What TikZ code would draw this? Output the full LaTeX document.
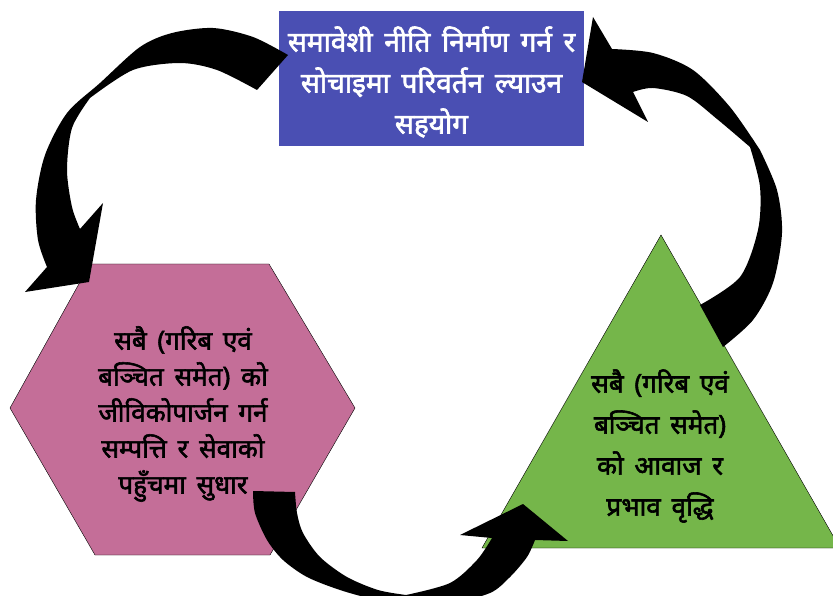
\documentclass[tikz,border=0pt]{standalone}
\usepackage{fontspec}
\newfontfamily\deva[Script=Devanagari, FakeBold=2.2, WordSpace=1.6]{Noto Sans}
\definecolor{sahblau}{RGB}{74,79,179}
\definecolor{pahrosa}{RGB}{196,110,152}
\definecolor{awgruen}{RGB}{117,182,74}

\begin{document}
\begin{tikzpicture}[x=1pt, y=-1pt,
    txt/.style={align=center, font=\deva\fontsize{26}{36}\selectfont},
    pfeil/.style={fill=black}]
        \useasboundingbox (0,0) rectangle (833,596);

        \node[fill=sahblau, minimum width=305pt, minimum height=135pt, inner sep=0pt] (Sahayog) at (431.5,78.5) {};
        \node[txt, text=white, font=\deva\fontsize{28}{41}\selectfont] (SahayogTxt) at (431.5,82)
              {समावेशी नीति निर्माण गर्न र\\सोचाइमा परिवर्तन ल्याउन\\सहयोग};

        \draw[fill=pahrosa] (90,264) -- (269,264) -- (355,408) -- (270,555) -- (95,555) -- (10,408) -- cycle;
        \node[txt] (Pahunch) at (183,414)
              {सबै (गरिब एवं\\बञ्चित समेत) को\\जीविकोपार्जन गर्न\\सम्पत्ति र सेवाको\\पहुँचमा सुधार};

        \draw[fill=awgruen] (661,235) -- (840,548) -- (482,548) -- cycle;
        \node[txt, font=\deva\fontsize{26}{41}\selectfont] (Awaj) at (660,446)
              {सबै (गरिब एवं\\बञ्चित समेत)\\को आवाज र\\प्रभाव वृद्धि};

        \begin{scope}[pfeil]
            \fill (288,55)
                -- plot[smooth] coordinates {(288,55) (253,37) (213,28) (172,33) (140,47) (100,83) (67,113) (45,155) (36,200) (38,240) (47,267)}
                -- (25,292) -- (89,282) -- (103,203) -- (80,229)
                -- plot[smooth] coordinates {(80,229) (72,207) (67,170) (72,128) (90,98)}
                -- plot[smooth] coordinates {(90,98) (133,70) (180,63) (217,70) (257,90)}
                -- cycle;
            \fill (253,491) -- (295,492)
                -- plot[smooth] coordinates {(295,492) (297,513) (303,533) (320,557) (347,577) (378,590) (406,595)}
                -- plot[smooth] coordinates {(406,595) (450,583) (477,560) (492,538)}
                -- (460,535) -- (523,504) -- (568,541) -- (535,540)
                -- plot[smooth] coordinates {(535,540) (527,557) (510,577) (490,593) (450,603) (406,604)}
                -- plot[smooth] coordinates {(406,604) (373,599) (340,590) (307,577) (283,560) (267,540) (255,513) (253,491)}
                -- cycle;
            \fill (700,305) -- (723,347)
                -- plot[smooth] coordinates {(723,347) (753,320) (773,283) (782,233) (777,190) (760,150)}
                -- plot[smooth] coordinates {(760,150) (730,107) (693,70) (653,53) (612,49)}
                -- (593,17) -- (582,82) -- (648,122) -- (633,92)
                -- plot[smooth] coordinates {(633,92) (653,88) (687,96) (717,119) (750,147)}
                -- plot[smooth] coordinates {(750,147) (760,187) (758,230) (740,277) (700,305)}
                -- cycle;
        \end{scope}
    \end{tikzpicture}
\end{document}
